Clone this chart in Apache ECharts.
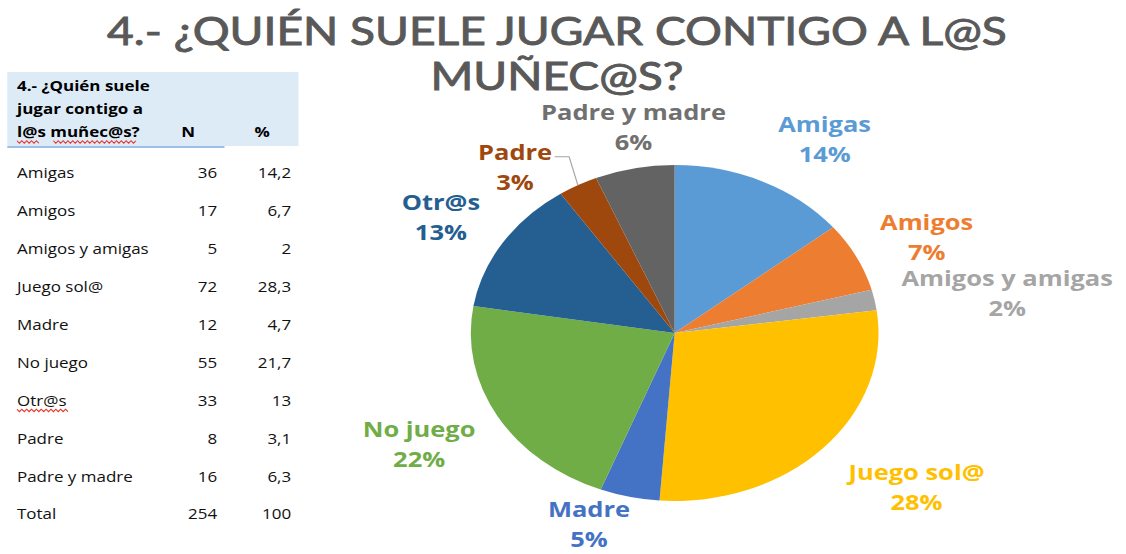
<!DOCTYPE html>
<html>
<head>
<meta charset="utf-8">
<script src="https://cdn.jsdelivr.net/npm/echarts@6/dist/echarts.min.js"></script>
<style>
  html, body { margin: 0; padding: 0; background: #fff; overflow: hidden; }
  /* the reference picture is stretched sideways, so the whole chart is too */
  #chart { width: 928px; height: 554px; transform: scaleX(1.2134); transform-origin: 0 0; }
</style>
</head>
<body>
<div id="chart"></div>
<script>
  var titleLines = ['4.- ¿QUIÉN SUELE JUGAR CONTIGO A L@S', 'MUÑEC@S?'];
  var headerLines = ['4.- ¿Quién suele', 'jugar contigo a', 'l@s muñec@s?'];
  var categories = ['Amigas', 'Amigos', 'Amigos y amigas', 'Juego sol@', 'Madre', 'No juego', 'Otr@s', 'Padre', 'Padre y madre'];
  var counts = [36, 17, 5, 72, 12, 55, 33, 8, 16];
  var percents = ['14,2', '6,7', '2', '28,3', '4,7', '21,7', '13', '3,1', '6,3'];
  var totalLabel = 'Total';
  var totalCount = 254;
  var totalPercent = '100';

  var colors = ['#5B9BD5', '#ED7D31', '#A5A5A5', '#FFC000', '#4472C4', '#70AD47', '#255E91', '#9E480E', '#636363'];
  var labelColors = ['#5B9BD5', '#ED7D31', '#A5A5A5', '#FFC000', '#4472C4', '#70AD47', '#255E91', '#9E480E', '#707070'];
  // label centre: distance from pie centre and a small turn off the slice middle
  var labelDist = [230, 229, 277, 252, 204, 238, 225, 212, 209];
  var labelTurn = [7, 2, 3, -5.5, 7.5, 2, -1.5, -10, 2];

  var cx = 556, cy = 333, R = 168;

  var chart = echarts.init(document.getElementById('chart'), null, {renderer: 'svg'});

  // middle angle of every slice, clockwise from 12 o'clock
  var sum = counts.reduce(function (a, b) { return a + b; }, 0);
  var midAngle = [];
  var acc = 0;
  counts.forEach(function (v) {
    midAngle.push((acc + v / 2) / sum * 360);
    acc += v;
  });

  function squiggle(x0, x1, y) {
    var pts = [];
    var up = true;
    for (var x = x0; x <= x1; x += 2) {
      pts.push([x, y + (up ? -1.2 : 1.2)]);
      up = !up;
    }
    return {type: 'polyline', shape: {points: pts}, style: {stroke: '#e8352b', lineWidth: 1, fill: null}};
  }

  var graphics = [];
  // title
  titleLines.forEach(function (t, i) {
    graphics.push({
      type: 'text', x: 459, y: 30 + i * 45,
      style: {text: t, align: 'center', verticalAlign: 'middle',
        font: 'normal 38px Lato', fill: '#595959', stroke: '#595959', lineWidth: 0.9}
    });
  });
  // table header
  graphics.push({type: 'rect', shape: {x: 6, y: 72, width: 240, height: 74}, style: {fill: '#DDEBF7'}, z: -1});
  graphics.push({type: 'line', shape: {x1: 6, y1: 147, x2: 185, y2: 147}, style: {stroke: '#9BC2E6', lineWidth: 2}});
  headerLines.forEach(function (t, i) {
    graphics.push({type: 'text', x: 14, y: 86 + i * 23,
      style: {text: t, align: 'left', verticalAlign: 'middle', font: 'bold 14px "Open Sans"', fill: '#000'}});
  });
  graphics.push({type: 'text', x: 155, y: 132, style: {text: 'N', align: 'center', verticalAlign: 'middle', font: 'bold 14px "Open Sans"', fill: '#000'}});
  graphics.push({type: 'text', x: 216, y: 132, style: {text: '%', align: 'center', verticalAlign: 'middle', font: 'bold 14px "Open Sans"', fill: '#000'}});
  graphics.push(squiggle(14, 33, 142));
  graphics.push(squiggle(44, 112, 142));

  // table rows
  var rowNames = categories.concat([totalLabel]);
  var rowN = counts.concat([totalCount]);
  var rowPct = percents.concat([totalPercent]);
  rowNames.forEach(function (name, i) {
    var y = 173 + i * 37.9;
    var f = 'normal 14px "Open Sans"';
    graphics.push({type: 'text', x: 14, y: y, style: {text: name, align: 'left', verticalAlign: 'middle', font: f, fill: '#111'}});
    graphics.push({type: 'text', x: 179, y: y, style: {text: String(rowN[i]), align: 'right', verticalAlign: 'middle', font: f, fill: '#111'}});
    graphics.push({type: 'text', x: 240, y: y, style: {text: rowPct[i], align: 'right', verticalAlign: 'middle', font: f, fill: '#111'}});
    if (name === 'Otr@s') graphics.push(squiggle(14, 56, y + 10));
  });

  var pieData = categories.map(function (name, i) {
    return {
      name: name,
      value: counts[i],
      itemStyle: {color: colors[i]},
      label: {color: labelColors[i]},
      labelLine: {show: name === 'Padre'}
    };
  });

  var option = {
    animation: false,
    graphic: graphics,
    series: [{
      type: 'pie',
      center: [cx, cy],
      radius: R,
      startAngle: 90,
      clockwise: true,
      avoidLabelOverlap: false,
      data: pieData,
      itemStyle: {borderWidth: 0},
      label: {
        position: 'outside',
        fontFamily: 'Open Sans',
        fontWeight: 'bold',
        fontSize: 21,
        lineHeight: 30,
        formatter: function (p) { return p.name + '\n' + Math.round(p.percent) + '%'; }
      },
      labelLine: {show: false, lineStyle: {color: '#a5a5a5', width: 1}},
      labelLayout: function (params) {
        var i = params.dataIndex;
        var a = (midAngle[i] + labelTurn[i]) * Math.PI / 180;
        var x = cx + labelDist[i] * Math.sin(a);
        var y = cy - labelDist[i] * Math.cos(a);
        var out = {x: x, y: y, align: 'center', verticalAlign: 'middle'};
        if (categories[i] === 'Padre') {
          var m = midAngle[i] * Math.PI / 180;
          var ex = cx + R * Math.sin(m), ey = cy - R * Math.cos(m);
          var right = x + params.labelRect.width / 2 + 2;
          out.labelLinePoints = [[ex, ey], [right + 12, y - 10], [right, y - 10]];
        }
        return out;
      }
    }]
  };
  chart.setOption(option);
</script>
</body>
</html>
